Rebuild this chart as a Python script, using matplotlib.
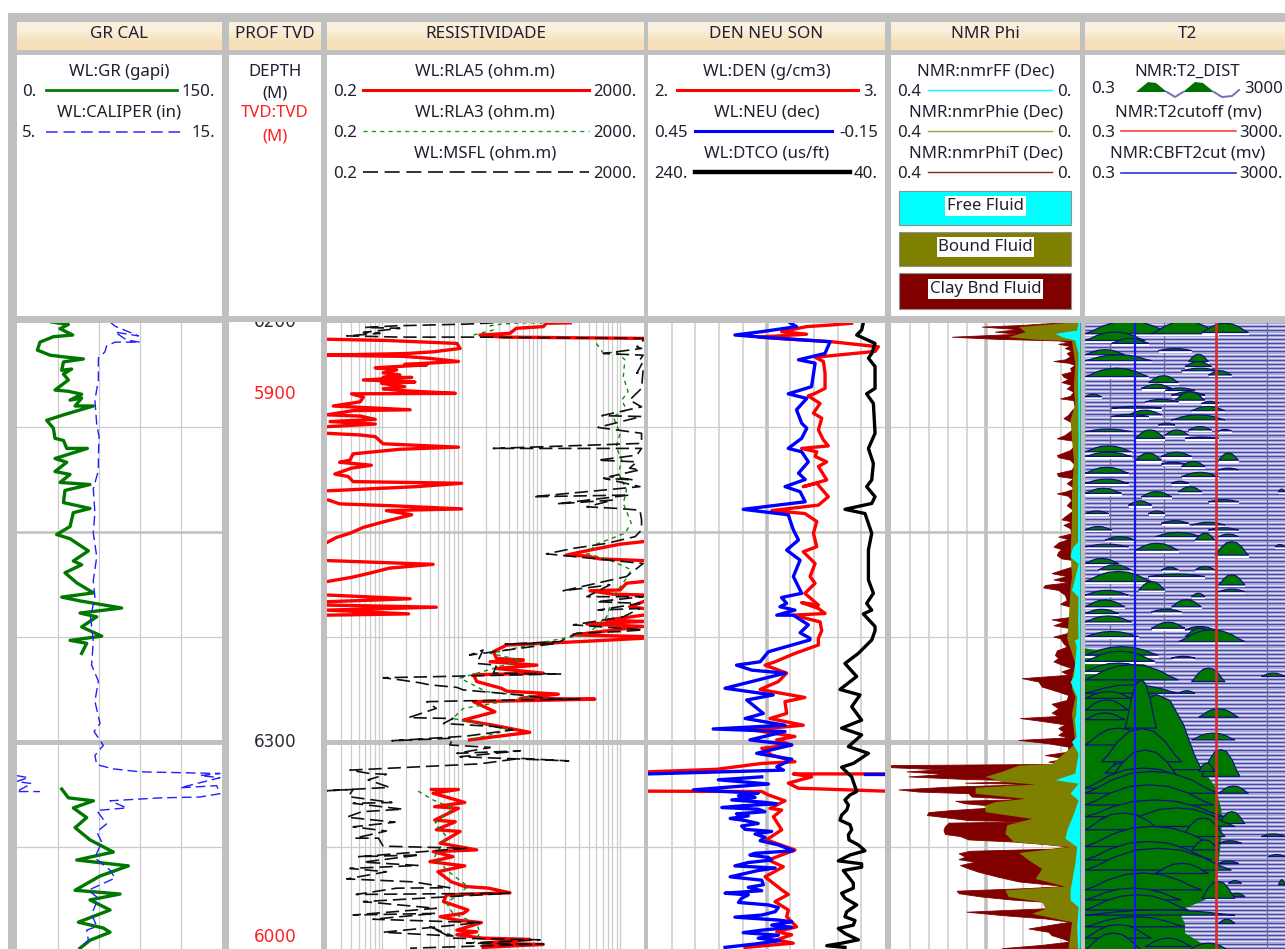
import matplotlib
matplotlib.use("Agg")
import matplotlib.pyplot as plt
from matplotlib.patches import Rectangle
import numpy as np

nan = np.nan
plt.rcParams['font.family'] = ['Noto Sans', 'DejaVu Sans']

# depth grid (m)
GRID_DEPTHS = [6225, 6250, 6275, 6300, 6325]
GRID_WIDTHS = [0.9, 1.8, 0.9, 3.6, 0.9]
MD_TICKS = [6200, 6300]
TVD_TICKS = [5900, 6000]
TVD_TICK_DEPTHS = [6217.1, 6346.4]

GR_DEPTH = [6200, 6200.6, 6201.6, 6203.1, 6203.5, 6204.8, 6206.7, 6207.9, 6208.3, 6208.8, 6209.5, 6211.5, 6211.2, 6212.4, 6213.8, 6216.2, 6216.5, 6217.2, 6218.6, 6218.1, 6220, 6220, 6222, 6223.4, 6225.3, 6227.7, 6228.2, 6230.1, 6230.1, 6232.5, 6233.4, 6235.6, 6236.3, 6238.2, 6238.7, 6240.1, 6243, 6244.4, 6245.4, 6248.7, 6250.6, 6251.6, 6254.5, 6256.9, 6257.8, 6259.7, 6262.1, 6264.5, 6265.5, 6266.4, 6268.1, 6269.3, 6270.2, 6272.6, 6274.8, 6275.8, 6276.5, 6278.9, 6290,
            6311.2, 6313.3, 6314, 6315.7, 6318, 6320.4, 6323.3, 6326.2, 6328.1, 6329.5, 6331.9, 6335.3, 6336.2, 6337.6, 6340, 6342.9, 6344.3, 6345.3, 6347.2, 6349.1]
GR_VALUE = [25.4, 37.6, 31.5, 40.8, 26.6, 16.8, 14.9, 24.2, 34, 48.6, 34, 32.7, 40, 34, 37.6, 27.8, 37.6, 47.3, 38.8, 47.3, 42.5, 55.9, 35.1, 21.7, 26.6, 27.8, 34, 36.4, 51.5, 27.8, 36.4, 27.8, 38.8, 31.5, 53.4, 35.1, 34, 53.4, 41.2, 38.8, 29, 38.8, 52.2, 41.2, 47.3, 35.1, 43.7, 55.9, 32.7, 46.1, 76.6, 46.1, 58.3, 47.3, 62, 38.8, 51, 47.3, nan,
            32.7, 37.6, 55.9, 41.2, 51, 42.5, 53.4, 70.5, 43.7, 81.5, 60.8, 42.5, 75.4, 53.4, 68.1, 44.9, 63.2, 68.1, 53.4, 46.1]

CAL_DEPTH = [6200, 6201, 6203.3, 6202.4, 6204.3, 6204.8, 6204.8, 6205.7, 6207.1, 6208.6, 6213.8, 6218.6, 6224.4, 6227.2, 6232, 6235.4, 6239.7, 6245.4, 6250.2, 6255.9, 6261.6, 6265.5, 6270.2, 6276, 6281.7, 6285.5, 6290.3, 6295.6, 6297.5, 6300.8, 6303.2, 6305.4, 6306.4, 6307.1, 6307.5, 6308, 6308.5, 6310.9, 6310.4, 6312.3, 6313.1, 6313.3, 6314, 6315.7, 6316.3, 6319.5, 6321.4, 6323.8, 6327.6, 6330.5, 6332.4, 6335.3, 6337.2, 6341, 6343.9, 6344.8, 6347.2, 6349.1]
CAL_VALUE = [9.54, 9.78, 10.92, 9.78, 10.35, 11, 9.78, 9.37, 9.29, 8.97, 8.97, 8.8, 8.89, 9.0, 8.97, 8.97, 8.72, 8.8, 8.72, 8.89, 8.72, 8.8, 8.59, 8.72, 8.64, 8.97, 8.8, 9.05, 8.76, 9.21, 8.8, 8.89, 9.7, 11, 14.9, 13.93, 14.9, 12.95, 14.74, 14.9, 13.93, 11.97, 9.54, 10.35, 8.89, 9.37, 8.89, 9.13, 8.8, 9.54, 9.78, 8.48, 8.97, 8.64, 8.89, 8.4, 8.48, 8.07]
CAL_WRAP_DEPTH = [6308, 6308.5, 6309.4, 6309.9, 6311.8, 6311.8]
CAL_WRAP_VALUE = [4.98, 5.55, 4.98, 5.71, 4.98, 6.12]

# resistivities kept as log10(ohm.m), the curve wraps round at the track edges
RLA5_DEPTH = [6200.2, 6200.3, 6201.1, 6201.5, 6202.7, 6203.1, 6203.6, 6203.9, 6203.9,
              6204.1, 6204.4, 6205.1, 6206.3, 6207.1, 6207.5, 6207.9, 6208.2, 6208.6, 6209.4, 6210.1, 6210.2, 6210.9, 6211.4, 6212.1, 6212.6, 6213.2, 6213.2, 6213.8, 6214.3, 6214.6, 6215.4, 6215.9, 6216.3, 6217, 6217.1, 6217.9, 6219, 6220, 6220.9, 6221.1, 6222.1, 6222.4, 6223.2, 6223.7, 6224.3, 6224.9, 6225,
              6226.5, 6226.9, 6227.3, 6229, 6229.8, 6230.3, 6231.4, 6232.9, 6233.4, 6234.1, 6234.8, 6236.2, 6236.8, 6238, 6238.4, 6239.2, 6240.2, 6240.3,
              6242.4, 6243.3, 6243.8, 6244.5, 6244.9, 6245.9, 6247.5, 6248.9, 6250.3, 6251.3, 6252.5, 6252.5,
              6252.3, 6252.9, 6254.3, 6255.5, 6255.7, 6256.4, 6256.8, 6256.8,
              6256.8, 6257.7, 6258.6, 6259.8, 6260.8, 6261.8, 6261.8,
              6261.8, 6262.2, 6263.8, 6264, 6264.8, 6265, 6265,
              6265, 6265.9, 6266.6, 6266.6,
              6266.6, 6267.8, 6268.2, 6268.2,
              6267.4, 6267.9, 6268.6, 6269.5, 6269.8, 6269.8,
              6269.8, 6271, 6271.3, 6271.9, 6272.5, 6274.5, 6274.9, 6275.3, 6276.1, 6276.9, 6278.5, 6280.1, 6280.5, 6280.9, 6281.7, 6282.5, 6283.6, 6284, 6285.6, 6287.2, 6287.9, 6288.6, 6289.6, 6289.8, 6290.4, 6292.8, 6294.8, 6296, 6297.7, 6299.5, 6299.6,
              6311.3, 6311.3, 6312.2, 6314.4, 6315.4, 6315.8, 6318.6, 6319, 6320.9, 6321.3, 6324.1, 6325.7, 6326.1, 6327.3, 6328.5, 6329.5, 6330.9, 6333.3, 6334.4, 6334.8, 6335.9, 6336.4, 6338, 6340, 6340.8, 6341.6, 6342.4, 6343, 6344.8, 6345.2, 6345.9, 6346.7, 6347, 6347.9, 6348.2, 6348.9]
RLA5_LOG = [2.37, 2.07, 2.03, 1.69, 1.61, 1.23, 1.52, 3.29, nan,
            -.7, .05, .94, .98, .64, .31, -.7, .28, .56, .96, .28, .56, -.09, .18, .01, .22, .01, .37, -.24, .41, -.01, .28, .01, .22, .92, -.39, -.24, -.28, -.62, .35, -.37, -.7, -.28, -.09, -.66, -.09, -.68, nan,
            -.7, -.28, -.09, .01, .96, .22, -.37, -.41, -.54, -.14, -.39, -.6, -.43, -.37, 1.0, .43, -.7, nan,
            -.68, -.54, .18, 1.0, .05, .37, .03, -.24, -.41, -.58, -.7, nan,
            3.29, 3.0, 2.62, 2.32, 2.58, 2.74, 3.29, nan,
            -.7, .64, .09, -.16, -.39, -.7, nan,
            3.29, 3.08, 3.0, 2.62, 2.91, 3.29, nan,
            -.7, .35, -.7, nan,
            3.29, 3.12, 3.29, nan,
            -.7, .68, -.7, .33, -.7, nan,
            3.29, 2.83, 3.29, 2.58, 3.29, 2.41, 3.29, 3.29, 2.49, 1.57, 1.4, 1.44, 1.78, 1.36, 1.95, 1.44, 2.03, 1.15, 1.19, 1.5, 1.57, 2.22, 1.74, 2.68, 1.15, 1.42, 1.02, 1.4, 1.86, 1.1, nan,
            .62, .96, .64, 1.04, .66, .96, .66, .92, .68, .98, .73, 1.19, .64, .89, .6, 1.04, .7, .87, 1.04, 1.34, 1.61, .81, .77, 1.08, 1.02, .73, .94, 1.25, .94, 1.19, .94, 1.27, 1.86, 1.27, 2.03, 1.27]

RLA3_DEPTH = [6203.1, 6201.9, 6200.9, 6200.5, 6200.2, 6200.2, 6200.3,
              6205.1, 6207.5, 6207.1, 6209, 6213, 6216.6, 6218.6, 6220.9, 6222.5, 6226.5, 6229.7, 6232.9, 6236, 6240, 6243.2, 6247.9, 6250.3, 6252.9, 6255.1, 6257, 6259, 6261, 6265.4, 6270.2, 6274.5, 6275.3, 6278.9, 6280.5, 6282.5, 6284.8, 6288, 6289.2, 6292, 6294.4, 6297.1, 6299.5, 6299.6,
              6311.7, 6313.8, 6315.8, 6319.4, 6322.5, 6327.3, 6330.5, 6334.4, 6338.4, 6340.8, 6343.2, 6345.5, 6347.9]
RLA3_LOG = [1.15, 1.4, 1.36, 1.5, 1.74, 2.03, nan,
            2.7, 2.79, 2.95, 3.06, 3.04, 3.1, 3.02, 3.08, 2.91, 3.0, 2.95, 3.02, 2.98, 3.08, 3.04, 3.14, 3.06, 2.7, 2.58, 2.91, 3.14, 3.08, 2.91, 2.83, 2.58, 2.28, 1.36, 1.74, 1.4, .98, 1.31, 1.9, 1.02, .89, 1.61, 1.1, nan,
            .45, .64, .89, .66, .81, .66, .81, 1.08, .81, .89, 1.19, 1.23, 1.15]

MSFL_DEPTH = [6200.2, 6200.5, 6200.9, 6201.3, 6201.5, 6202.5, 6202.7, 6203.3, 6203.6, 6203.6, 6203.9, 6204.4, 6205.9, 6206.3, 6207.5, 6207.9, 6209, 6209.4, 6212.2, 6211.4, 6215.8, 6218.6, 6220.2, 6222.3, 6222.5, 6225.1, 6226.5, 6228.9, 6230.1, 6230.1, 6231.7, 6232.9, 6233.3, 6234.8, 6235.2, 6236.8, 6237.6, 6237.2, 6239.2, 6241.6, 6241.2, 6243.3, 6242.4, 6244, 6244.4, 6244.8, 6247.1, 6249.5, 6251.1, 6252.7, 6253.9, 6255.2, 6256, 6257.5, 6260.6, 6264, 6262.6, 6265.4, 6265.4, 6266.6, 6267, 6268.6, 6268.2, 6270.2, 6272.1, 6273.3,
              6273.7, 6274.1, 6276.1, 6276.7, 6276.5, 6279.3, 6278.1, 6281.3, 6281.7, 6283.6, 6283.8, 6284.7, 6285.2, 6285.9, 6286.4, 6287, 6287.6, 6288.8, 6289.8, 6289.8, 6290.2, 6290.4, 6292, 6294.2, 6294.4, 6295.6, 6296.3, 6297.1, 6298.6, 6299.7, 6299.1, 6300.7, 6301.3, 6302.7, 6302.1, 6303.5, 6304.5, 6303.9, 6305.2, 6306.7, 6307.5, 6307.7, 6309, 6310.8, 6311.6, 6311.3, 6313, 6314.4, 6314.6, 6316, 6316.6, 6317.9, 6319.1, 6320.2, 6321.2, 6322.9, 6322.9, 6324.8, 6325.3, 6327.3, 6326.9, 6328.6, 6329.4, 6330.1, 6330.9, 6332.6, 6333.3, 6334.7, 6334.8, 6336.3, 6336, 6338, 6339.6, 6341.2, 6340.8, 6342.2, 6343, 6345.3, 6346.2, 6344, 6346.7, 6347.1, 6347.9, 6348.1, 6349.1]
MSFL_LOG = [1.4, 1.06, .18, -.22, .22, -.24, -.03, -.45, .22, 1.19, 3.29, 3.29, 3.21, 3.27, 2.79, 3.29, 3.25, 3.29, 3.21, 3.29, 3.27, 3.12, 3.27, 2.77, 3.27, 2.72, 3.27, 3.27, 1.4, 3.27, 3.21, 2.72, 3.21, 3.12, 3.25, 2.87, 3.17, 2.79, 3.25, 1.9, 3.12, 2.2, 2.91, 2.58, 2.98, 3.25, 3.27, 3.27, 3.19, 2.83, 2.41, 2.07, 2.49, 3.29, 3.08, 2.28, 2.87, 2.58, 3.29, 2.7, 3.25, 2.72, 3.25, 3.04, 2.41, 3.29,
            3.0, 2.45, 2.24, 1.55, 2.2, 1.1, 1.27, 1.19, 1.44, 1.4, 2.26, .01, .22, .47, .6, .94, 1.02, 1.74, 2.16, 2.49, 1.02, .56, .68, .33, .89, .77, 1.4, 1.65, 1.06, .12, .89, .85, 1.36, .94, 1.74, .98, 2.35, 1.74, 1.23, -.41, -.16, .05, -.18, .09, -.7, -.37, -.43, .12, -.37, .26, -.26, -.45, .16, -.37, .05, -.35, -.05, .01, 1.06, -.3, .47, -.24, .45, -.41, .05, -.45, .39, .85, .18, -.33, 1.61, -.24, .68, -.37, .68, -.12, 1.23, .01, .89, .6, .89, 1.99, 1.06, 2.03, .35]

DEN_DEPTH = [6200.3, 6200.7, 6201.1, 6202.3, 6202.9, 6203.6, 6204.7, 6205.9, 6207, 6208.4, 6209.4, 6212.2, 6215.8, 6217, 6217.6, 6219.4, 6221.7, 6222.9, 6225.7, 6228.1, 6229.5, 6230.1, 6230.9, 6232, 6233.3, 6234.4, 6237.6, 6239.2, 6238.4, 6241.6, 6243.6, 6244.9, 6245.6, 6247.5, 6250.3, 6253.5, 6254.7, 6257.5, 6260.6, 6262.2, 6264.6, 6267.4, 6266.8, 6268.2, 6269.4, 6269.8, 6271.4, 6273.5,
             6275.3, 6276.9, 6278.9, 6280.9, 6281.7, 6283.6, 6285.6, 6287.5, 6289.4, 6290.4, 6293.2, 6294.4, 6296, 6297.1, 6298.7, 6299.5, 6300.7, 6301.5, 6303.1, 6304.7, 6305.1, 6306.5, 6307.1, 6307.2,
             6307.6, 6307.6, 6308.3, 6309.8, 6311, 6311.7, 6311.8,
             6311.7, 6311.8, 6312.6, 6314, 6315.8, 6316.2, 6317.8, 6320.9, 6323.3, 6325.7, 6328.1, 6329.7, 6332.1, 6335.2, 6336.3, 6338, 6340, 6341.6, 6344, 6345.2, 6345.9, 6347.1, 6347.9, 6348.9]
DEN_VALUE = [2.859, 2.775, 2.669, 2.564, 2.669, 2.466, 2.775, 2.972, 2.958, 2.705, 2.74, 2.747, 2.747, 2.705, 2.676, 2.726, 2.698, 2.733, 2.719, 2.74, 2.761, 2.648, 2.712, 2.705, 2.754, 2.719, 2.754, 2.655, 2.712, 2.761, 2.719, 2.522, 2.662, 2.712, 2.698, 2.712, 2.655, 2.705, 2.684, 2.705, 2.662, 2.719, 2.648, 2.719, 2.747, 2.613, 2.726, 2.733,
             2.719, 2.719, 2.62, 2.536, 2.494, 2.585, 2.55, 2.473, 2.662, 2.578, 2.585, 2.515, 2.655, 2.437, 2.62, 2.543, 2.606, 2.48, 2.522, 2.62, 2.48, 2.29, 2.0, nan,
             3.0, 2.613, 2.69, 2.592, 2.634, 3.0, nan,
             2.0, 2.48, 2.508, 2.578, 2.515, 2.564, 2.529, 2.564, 2.5, 2.62, 2.508, 2.571, 2.494, 2.564, 2.592, 2.536, 2.592, 2.585, 2.627, 2.543, 2.606, 2.543, 2.613, 2.41]

NEU_DEPTH = [6200.2, 6201.1, 6202.3, 6203.1, 6203.9, 6204.7, 6207.5, 6209, 6209.8, 6215.4, 6217.1, 6218.2, 6220.9, 6224.1, 6225.3, 6227.7, 6230.1, 6230.9, 6233.3, 6236, 6237.5, 6239.2, 6240.4, 6242.8, 6244.6, 6245.9, 6249.5, 6251.9, 6254.3, 6256.7, 6260.6, 6264.6, 6265.6, 6267, 6267.8, 6268.6, 6269.8, 6269.8, 6272.1, 6274, 6275.3,
             6275.7, 6278.5, 6280.9, 6281.7, 6282.9, 6283.6, 6285.6, 6287.2, 6288.8, 6290, 6293.2, 6294.4, 6296, 6296.9, 6297.5, 6299.5, 6300.7, 6302.7, 6304.1, 6305.9, 6306.7, 6307.6, 6307.6,
             6308.3, 6309, 6310, 6311.4, 6312.2, 6312.8, 6313.2, 6313.8, 6314.3, 6314.7, 6315.2, 6315.6, 6316, 6316.6, 6317.1, 6317.6, 6318.2, 6318.7, 6319.4, 6320, 6320.8, 6321.3, 6321.9, 6322.7, 6323.5, 6324.5, 6325.9, 6326.5, 6326.9, 6327.5, 6328.1, 6328.7, 6329.5, 6330, 6330.6, 6331.3, 6332.1, 6332.9, 6334, 6334.6, 6335.4, 6336, 6336.4, 6337.2, 6338.2, 6338.8, 6339.4, 6340.4, 6341.2, 6341.7, 6342.4, 6342.8, 6343.6, 6344.1, 6344.8, 6345.4, 6346, 6346.7, 6347.3, 6348.1, 6348.9]
NEU_VALUE = [.09, .074, .162, .23, .12, -.011, .002, .069, .027, .036, .095, .048, .074, .061, .048, .061, .095, .061, .044, .069, .052, .103, .065, .052, .209, .095, .082, .069, .099, .065, .082, .061, .112, .099, .116, .078, .124, .082, .044, .065, .04,
             .04, .145, .166, .226, .187, .103, .187, .255, .133, .2, .158, .204, .103, .285, .103, .192, .086, .175, .086, .124, .107, .45, nan,
             .162, .272, .145, .335, .171, .221, .179, .238, .162, .124, .213, .263, .171, .154, .226, .196, .242, .204, .171, .213, .204, .137, .179, .154, .166, .12, .082, .179, .192, .145, .137, .196, .23, .128, .171, .204, .242, .162, .158, .196, .162, .255, .196, .213, .221, .145, .12, .128, .162, .23, .12, .086, .137, .086, .162, .209, .12, .171, .116, .179, .255]
NEU_WRAP_DEPTH = [6307.6, 6307.6]
NEU_WRAP_VALUE = [-.099, -.152]

DTCO_DEPTH = [6200.2, 6201.9, 6203.1, 6205.1, 6207.5, 6208.6, 6210.6, 6215.8, 6217.1, 6219.4, 6226.5, 6230.1, 6233.7, 6237.6, 6239.2, 6241.6, 6243.2, 6244.6, 6245.6, 6250.3, 6254.3, 6261.4, 6264.6, 6267, 6268.6, 6269.5, 6272.5, 6273.5,
              6275.7, 6278.9, 6281.3, 6284.4, 6287.5, 6288.8, 6291.6, 6294.8, 6296.7, 6298.3, 6301.1, 6302.7, 6305.1, 6306, 6308.3, 6311.8, 6312.6, 6313.8, 6315, 6316.2, 6317.4, 6318.6, 6319.7, 6320.9, 6322.1, 6323.3, 6324.5, 6325.9, 6326.9, 6328.3, 6329, 6329.8, 6330.6, 6332.1, 6333.6, 6334.8, 6336, 6337.2, 6338.8, 6340.4, 6341.6, 6342.5, 6343.6, 6344.4, 6345.6, 6347.1, 6347.9, 6348.5, 6348.9]
DTCO_VALUE = [58.3, 59.7, 63.9, 48.4, 51.2, 54, 48.4, 48.4, 55.5, 49.8, 48.4, 54, 49.8, 51.2, 55.5, 48.4, 51.2, 73.8, 56.9, 51.2, 54, 54, 49.8, 55.5, 51.2, 58.3, 48.4, 48.4,
              51.2, 62.5, 73.8, 63.9, 78, 61.1, 68.1, 59.7, 76.6, 59.7, 70.9, 54, 66.7, 76.6, 68.1, 63.9, 69.5, 73.8, 70.9, 72.3, 76.6, 78, 69.5, 68.1, 70.9, 70.4, 62.5, 56.9, 69.5, 79.4, 59.7, 59.7, 75.2, 70.9, 66.7, 66.7, 76.6, 73.8, 63.9, 72.3, 73.8, 65.3, 66.7, 79.4, 73.8, 62.5, 76.6, 89.2, 73.8]

PHIT_DEPTH = [6199.9, 6200.7, 6201.1, 6201.7, 6202.3, 6202.8, 6203.5, 6204, 6204.4, 6204.9, 6205.2, 6205.7, 6206.2, 6206.8, 6207.4, 6208.2, 6208.9, 6209.3, 6209.7, 6210.2, 6211, 6211.8, 6212.4, 6213, 6213.6, 6214.3, 6215, 6215.8, 6216.6, 6217.6, 6218.2, 6218.6, 6220.3, 6221.1, 6222.1, 6222.9, 6223.7, 6224.5, 6225.7, 6226.9, 6227.7, 6228.2, 6229.3, 6230.5, 6231.7, 6232.2, 6232.8, 6234, 6235.2, 6236, 6236.7, 6237.2, 6238.4, 6239.6, 6240.4, 6240.8, 6241.4, 6242.4, 6243.6, 6244.8, 6246.3, 6247, 6247.5, 6248.3, 6249.1, 6250.3, 6251.1, 6251.7, 6252.5, 6253.5, 6254.1, 6254.7, 6255.5, 6256.3, 6256.8, 6257.9, 6259, 6259.8, 6260.5, 6261.3, 6262, 6262.6, 6263.2, 6263.8, 6265, 6266.2, 6267.1, 6267.9, 6269.2, 6270.2, 6270.8, 6271.4, 6272.2, 6272.9, 6274.1, 6274.9,
              6275.3, 6276.5, 6277.3, 6278.2, 6279.3, 6280, 6280.8, 6281.6, 6282.4, 6283.2, 6284, 6284.8, 6285.6, 6286.8, 6288, 6288.8, 6290, 6290.9, 6292, 6293, 6293.8, 6294.3, 6295.1, 6295.8, 6296.7, 6297.5, 6298.3, 6298.9, 6299.5, 6300.3, 6301.1, 6302.3, 6303.1, 6303.9, 6304.7, 6305.2,
              6305.5, 6306, 6306.5, 6307, 6307.6, 6308.2, 6308.8, 6309.2, 6309.7, 6310, 6310.6, 6311.3, 6311.8, 6312.2, 6313, 6313.6, 6314, 6314.6, 6315.4, 6316.2, 6316.7, 6317.4, 6317.9, 6318.6, 6318.9, 6319.2, 6320.1, 6320.9, 6321.9, 6322.4, 6323.2, 6323.7, 6324.3, 6324.9, 6325.4, 6325.9, 6326.5, 6327.3, 6327.9, 6328.5, 6329.3, 6330.1, 6330.9, 6332.1, 6333.2, 6334.3, 6334.8, 6335.4, 6336, 6336.8, 6337.5, 6338, 6338.8, 6339.6, 6340.4, 6341.2, 6342, 6342.8, 6343.6, 6344.4, 6345.2, 6346, 6346.7, 6347.5, 6348.3, 6349.1]
PHIT_VALUE = [.011, .123, .208, .13, .18, .13, .271, .18, .042, .025, .046, .021, .032, .018, .028, .021, .032, .056, .025, .011, .021, .018, .039, .035, .025, .039, .018, .028, .014, .021, .042, .014, .011, .018, .025, .035, .021, .014, .018, .032, .049, .018, .011, .021, .049, .046, .021, .011, .018, .049, .046, .014, .028, .011, .032, .049, .025, .018, .028, .014, .032, .039, .018, .035, .021, .018, .046, .025, .046, .056, .039, .046, .049, .039, .007, .007, .039, .06, .028, .056, .025, .074, .078, .046, .032, .028, .042, .018, .011, .018, .06, .035, .056, .021, .028, .056,
              .042, .035, .028, .049, .053, .046, .056, .039, .018, .039, .025, .123, .088, .081, .046, .025, .028, .06, .046, .06, .046, .127, .074, .032, .046, .035, .046, .025, .13, .067, .025, .025, .074, .032, .067, .039,
              .4, .4, .293, .367, .286, .363, .243, .095, .243, .095, .271, .384, .342, .236, .229, .116, .264, .243, .159, .271, .321, .324, .286, .236, .102, .278, .286, .289, .286, .254, .236, .141, .074, .021, .06, .233, .257, .243, .257, .222, .254, .236, .215, .173, .13, .032, .116, .261, .257, .208, .145, .081, .025, .074, .24, .166, .074, .021, .067, .109, .067, .06, .039, .021, .081, .166]

PHIE_DEPTH = [6199.9, 6201.1, 6202.3, 6203.5, 6204.1, 6204.4, 6207.5, 6209.8, 6215.4, 6219.4, 6223.3, 6227.7, 6232.9, 6240.8, 6247.1, 6255.1, 6260.6, 6263, 6271, 6275.3,
              6281.2, 6284.8, 6287.2, 6289.2, 6293.2, 6297.1, 6300.3, 6305.1, 6305.5, 6307, 6308.2, 6309.4, 6310, 6310.8, 6312.2, 6313.4, 6314.2, 6315, 6316.6, 6318.2, 6319.7, 6321.7, 6323.7, 6324.9, 6326.3, 6328.1, 6330.1, 6332.5, 6334.3, 6335.2, 6336.8, 6338, 6339.6, 6340.8, 6342.8, 6349.1]
PHIE_VALUE = [.007, .13, .116, .152, .095, .018, .014, .011, .014, .011, .021, .018, .014, .018, .018, .021, .018, .021, .025, .028,
              .011, .018, .018, .011, .018, .014, .011, .06, .13, .166, .201, .166, .095, .222, .222, .116, .179, .201, .201, .102, .155, .159, .141, .021, .13, .109, .081, .095, .032, .159, .152, .081, .074, .102, .018, .025]

FF_DEPTH = [6199.9, 6201.9, 6202.7, 6203.5, 6204.3, 6207.5, 6213.8, 6227.3, 6241.6, 6252.3, 6253.5, 6254.3, 6255.9, 6257.5, 6262.2, 6263.8, 6265.4, 6271, 6275.3,
            6275.7, 6277.3, 6284.4, 6285.6, 6289.2, 6293.2, 6294.7, 6298.7, 6299.9, 6302.7, 6307.4, 6309, 6309.8, 6312.2, 6313.8, 6317, 6321, 6322.9, 6324.9, 6328.9, 6335.2, 6337.6, 6339.2, 6344, 6349.1]
FF_VALUE = [.004, .007, .053, .039, .011, .004, .005, .004, .005, .005, .015, .018, .021, .004, .014, .018, .004, .005, .004,
            .012, .008, .014, .021, .007, .009, .012, .008, .018, .004, .011, .053, .004, .021, .004, .014, .028, .032, .007, .011, .021, .021, .004, .007, .005]

# T2 distribution, one hump per row: base depth, left/right bin, amplitude in depth units
T2_BASE = [6202.8, 6202.8, 6202.5, 6204.4, 6205.1, 6206.8, 6207.8, 6209.2, 6209.4, 6210.6, 6211.6, 6212.6, 6213, 6214.4, 6215.8, 6216.3, 6217.4, 6217.8, 6218.6, 6219, 6219.4, 6220.5, 6221.1, 6222.1, 6222.5, 6223.3, 6224.5, 6225.7, 6225.9, 6226.1, 6226.9, 6227.7, 6227.7, 6230.9, 6232, 6232, 6232.9, 6232.9, 6233.8, 6234.4, 6235.2, 6236, 6236.8, 6238.4, 6238.4, 6240.4, 6240.4, 6240.8, 6241.6, 6242.8, 6243.6, 6245.6, 6245.6, 6247.9, 6248.3, 6249.5, 6249.5, 6251.1, 6251.1, 6251.9, 6251.9, 6253.5, 6253.5, 6254.3, 6255.1, 6255.5, 6257.5, 6259, 6259, 6259, 6260.6, 6261.8, 6262.6, 6263.8, 6264.2, 6265, 6265.4, 6267.8, 6267.8, 6269, 6269.4, 6271.4, 6272.9, 6273.3, 6274.9, 6274.9, 6275.3,
           6276.1, 6279.3, 6280, 6280.8, 6283.2, 6284.4, 6285.2, 6285.6, 6288.4, 6288.4, 6289.6, 6292.4, 6294.1, 6294.7, 6306.6, 6296.7, 6299.5, 6300.7, 6304.7, 6307.4, 6309, 6308.2, 6307, 6311, 6312.2, 6312.2, 6315, 6317.8, 6319.4, 6320.1, 6320.9, 6322.5, 6322.5, 6324.1, 6324.9, 6325.7, 6327.3, 6328.1, 6328.9, 6330.5, 6331.3, 6333.6, 6334, 6335.2, 6336.8, 6337.2, 6337.6, 6340, 6341.2, 6343.2, 6344, 6346.7, 6348.7, 6349.5, 6349.5]
T2_LEFT = [0, 13.3, 23.3, 0, 5.3, 14.7, 0, 0, 20.7, 20, 19.3, 24.7, 0, 12.7, 11.3, 16, 17.3, 0, 18, 12, 23.3, 5.3, 21.3, 8.7, 5.3, 17.3, 14.7, 20.7, 26.7, 0, 16, 10, 20, 0, 0, 15.3, 10, 26.7, 15.3, 19.3, 26.7, 0, 19.3, 0, 17.3, 18.7, 38.7, 0, 11.3, 24.7, 8.7, 0, 12.7, 15.3, 21.3, 0, 24.7, 14, 26.7, 22, 4, 0, 38, 10, 26.7, 26, 0, 2.7, 15.3, 22, 12.7, 0, 26.7, 10.7, 26.7, 0, 21.3, 0, 17.3, 13.3, 0, 0, 13.3, 20, 20, 0, 26.7,
           18.7, 0, 17.3, 0, 0, 35.3, 0, 21.3, 0, 18.7, 0, 0, 22.7, 0, 5.3, 8, 21.3, 0, 3.3, 4, 4.7, 23.3, 22.7, 0, 0, 26.7, 0, 0, 26.7, 6.7, 0, 19.3, 35.3, 26.7, 0, 21.3, 36.7, 0, 26.7, 0, 14, 28.7, 38.7, 0, 28.7, 23.3, 0, 0, 0, 26.7, 0, 0, 12, 0, 20.7]
T2_RIGHT = [17.3, 26.7, 32.7, 12, 12.7, 21.3, 8, 13.3, 24.7, 25.3, 26.7, 29.3, 12.7, 18.7, 17.3, 22, 24, 3.3, 24, 18.7, 26.7, 15.3, 28, 15.3, 12.7, 28, 18, 25.3, 29.3, 9.3, 20.7, 16, 26.7, 9.3, 9.3, 21.3, 15.3, 30.7, 20, 24, 30.7, 8.7, 26.7, 8.7, 20.7, 23.3, 40, 7.3, 17.3, 30.7, 13.3, 4.7, 16, 20.7, 28, 5.3, 30.7, 23.3, 30.7, 26, 10, 8.7, 40, 18.7, 30.7, 32.7, 6.7, 9.3, 18.7, 26, 24, 13.3, 32, 16, 32, 8.7, 24, 8, 23.3, 19.3, 6.7, 9.3, 20, 26, 26, 10.7, 30,
            32, 14.7, 22, 14, 13.3, 40, 18.7, 28, 18.7, 22, 9.3, 8.7, 30.7, 8, 23.3, 14.3, 30, 13.3, 19.3, 10.7, 19.3, 31, 26, 23.3, 26.7, 32.7, 25.7, 28, 32, 30, 15.3, 28, 40, 31.3, 26.7, 26.7, 40, 25.3, 30.7, 29.3, 24.7, 31.3, 40, 23.3, 32, 30, 19.3, 20.7, 30, 30, 20, 13.3, 21.3, 11.3, 28.7]
T2_AMP = [3, 3, 2.2, 2, 1.2, .5, 1.2, 1.4, 1.7, 1.2, .6, 1, 2, 1.6, 1, .6, .8, .6, 2, .6, .5, .4, 1, 1.1, .5, 1.2, .4, .8, .3, .6, 1.2, 2, .3, 1.4, 1, 1, 1.7, 1.7, .4, 1.2, .4, 1.4, 1, 1, .5, 1.2, .6, 1.2, 1.2, .5, 1, .6, .6, .6, .6, .8, .5, 1, .6, 1.6, .8, .6, .5, 1.6, 2, 3.2, 1.2, 1.2, .6, .8, .6, 2.4, 2.4, 2, .6, 1.1, .8, 1.6, 1.7, .6, 1, 1.4, 1.4, .8, 2, 1.2, .6,
          2.8, 2, .4, 2.4, 2, .8, 3.6, 3.2, 2, .6, 1.6, 2.4, 2, 1.6, 17.9, 11.5, 1.6, 4, 7.9, 2.4, 7.1, 6.4, 2, 4.8, 5.2, 1.7, 4.8, 4, 2.8, 4.4, 4, 4.4, .6, .6, 4.8, 2.4, .5, 4.4, .6, 5.2, 2.4, .6, 1.2, 4, .8, 4, 2.8, 3.6, 1.2, 1, 2.4, 3.2, 2, 4, 1.6]
T2_SHAPE_X = [0, .08, .2, .35, .5, .65, .8, .92, 1]
T2_SHAPE_Y = [0, .2, .6, .92, 1, .92, .6, .2, 0]
# solid green mass in the lower part of the track
T2_MASS_BIN = [0, 8, 12.7, 13.3, 10.7, 11.7, 13.3, 14.3, 16.7, 19.3, 22.7, 26, 27.3, 27.3, 26.7, 25.7, 24, 20, 19.3, 20, 20, 23.3, 26.7, 0]
T2_MASS_DEPTH = [6277.7, 6279.3, 6282, 6284.4, 6285.2, 6285.2, 6288.4, 6288.8, 6292.4, 6297.9, 6305.1, 6310.6, 6316.2, 6322.5, 6328.9, 6335.2, 6337.6, 6339.6, 6341.6, 6343.2, 6345.5, 6347.9, 6349.3, 6349.3]
T2_ROWS = np.arange(6200, 6350, 1.0)
T2_GRID_BINS = [5, 15.7, 36.3]
T2_CBF_BIN = 10
T2_CUTOFF_BIN = 26.1

GR_GRID = [30, 60, 90, 120]
RES_GRID = [.3, .4, .5, .6, .7, .8, .9, 1, 2, 3, 4, 5, 6, 7, 8, 9, 10, 20, 30, 40, 50, 60, 70, 80, 90, 100, 200, 300, 400, 500, 600, 700, 800, 900, 1000]
DEN_GRID = [2.1, 2.2, 2.3, 2.4, 2.6, 2.7, 2.8, 2.9]
NMR_GRID = [.36, .32, .28, .24, .16, .12, .08, .04]

W, H = 1285, 949
GREY = '#c0c0c0'
GRIDC = '#cbcbcb'
TXT = '#202030'
FS = 12.1


def track(x0, x1, y0=323, y1=949):
    ax = fig.add_axes([x0 / W, 1 - y1 / H, (x1 - x0) / W, (y1 - y0) / H])
    ax.set_ylim(6200 + (y1 - 322) / 4.2, 6200 + (y0 - 322) / 4.2)
    ax.set_xticks([])
    ax.set_yticks([])
    for s in ax.spines.values():
        s.set_visible(False)
    return ax


def second_scale(ax, lo, hi):
    a2 = ax.twiny()
    a2.set_xlim(lo, hi)
    a2.set_xticks([])
    a2.set_ylim(ax.get_ylim())
    a2.patch.set_visible(False)
    for s in a2.spines.values():
        s.set_visible(False)
    return a2


def depth_grid(ax):
    for d, w in zip(GRID_DEPTHS, GRID_WIDTHS):
        ax.axhline(d, color=GREY if w > 1 else GRIDC, lw=w, zorder=1)


fig = plt.figure(figsize=(W / 100, H / 100), dpi=100, facecolor='white')
bg = fig.add_axes([0, 0, 1, 1])
bg.set_xlim(0, W)
bg.set_ylim(H, 0)
bg.axis('off')
bg.add_patch(Rectangle((8, 13), W - 8, H - 13, fc=GREY, ec='none'))

header_grad = np.array([[[.985, .945, .87]], [[.96, .875, .725]]])
tracks = [(17, 222, 'GR CAL'), (229, 321, 'PROF TVD'), (327, 644, 'RESISTIVIDADE'),
          (648, 885, 'DEN NEU SON'), (891, 1080, 'NMR Phi'), (1085, 1290, 'T2')]
for x0, x1, name in tracks:
    bg.imshow(header_grad, extent=(x0, x1, 50, 22), aspect='auto', interpolation='bilinear', zorder=1)
    bg.add_patch(Rectangle((x0, 55), x1 - x0, 261, fc='white', ec='none', zorder=1))
    bg.text((x0 + min(x1, 1289)) / 2, 34, name, ha='center', va='center', fontsize=12.3, color=TXT, zorder=3)
bg.set_xlim(0, W)
bg.set_ylim(H, 0)


def leg(x, y, s, ha='center', color=TXT):
    bg.text(x, y + .5, s, ha=ha, va='center', fontsize=FS, color=color, zorder=3)


def legline(x0, x1, y, color, lw, ls='-'):
    bg.plot([x0, x1], [y, y], color=color, lw=lw, ls=ls, zorder=3)


# GR CAL legend
leg(119, 71, 'WL:GR (gapi)')
leg(22, 91, '0.', 'left')
leg(215, 91, '150.', 'right')
legline(46, 177, 89.5, '#008000', 2)
leg(119, 112, 'WL:CALIPER (in)')
leg(22, 132, '5.', 'left')
leg(215, 132, '15.', 'right')
legline(46, 186, 131.5, '#3c3cff', 1.2, (0, (7, 3.5)))
# depth legend
leg(275, 71, 'DEPTH')
leg(275, 93, '(M)')
leg(275, 112, 'TVD:TVD', color='#ff2020')
leg(275, 136, '(M)', color='#ff2020')
# resistivity legend
for yy, nm, col, lw, ls in [(71, 'WL:RLA5 (ohm.m)', '#ff0000', 2.2, '-'), (112, 'WL:RLA3 (ohm.m)', '#2a9a2a', 1, (0, (3, 3))),
                            (153, 'WL:MSFL (ohm.m)', '#101010', 1.2, (0, (9, 4)))]:
    leg(485, yy, nm)
    leg(333, yy + 20, '0.2', 'left')
    leg(637, yy + 20, '2000.', 'right')
    legline(363, 589, yy + 18.5, col, lw, ls)
# den neu son legend
for yy, nm, l, r, col, lw, a, b in [(71, 'WL:DEN (g/cm3)', '2.', '3.', '#ff0000', 2.2, 677, 858),
                                    (112, 'WL:NEU (dec)', '0.45', '-0.15', '#0000ff', 2.2, 695, 832),
                                    (153, 'WL:DTCO (us/ft)', '240.', '40.', '#000000', 3.2, 695, 850)]:
    leg(767, yy, nm)
    leg(654, yy + 20, l, 'left')
    leg(878, yy + 20, r, 'right')
    legline(a, b, yy + 18.5, col, lw)
# NMR legend
for yy, nm, col in [(71, 'NMR:nmrFF (Dec)', '#00ffff'), (112, 'NMR:nmrPhie (Dec)', '#a0a040'), (153, 'NMR:nmrPhiT (Dec)', '#902020')]:
    leg(986, yy, nm)
    leg(897, yy + 20, '0.4', 'left')
    leg(1071, yy + 20, '0.', 'right')
    legline(928, 1052, yy + 18.5, col, 1)
for y0, y1, col, nm in [(191, 225, '#00ffff', 'Free Fluid'), (232, 266, '#808000', 'Bound Fluid'), (273, 309, '#800000', 'Clay Bnd Fluid')]:
    bg.add_patch(Rectangle((899, y0), 172, y1 - y0, fc=col, ec='#909090', lw=0.8, zorder=2))
    bg.text(985.5, (y0 + y1) / 2 - 2, nm, ha='center', va='center', fontsize=FS, color=TXT, zorder=3,
            bbox=dict(fc='white', ec='none', pad=1.2))
# T2 legend
leg(1187, 71, 'NMR:T2_DIST')
leg(1091, 88, '0.3', 'left')
leg(1283, 88, '3000', 'right')
leg(1188, 112, 'NMR:T2cutoff (mv)')
leg(1091, 132, '0.3', 'left')
leg(1283, 132, '3000.', 'right')
legline(1121, 1236, 131, '#ff4040', 1.2)
leg(1188, 153, 'NMR:CBFT2cut (mv)')
leg(1091, 173, '0.3', 'left')
leg(1283, 173, '3000.', 'right')
legline(1121, 1236, 172.5, '#3030d0', 1.2)
bg.fill([1136, 1142, 1148, 1156, 1167], [92, 87, 82, 83, 92], fc='#007000', ec='none', zorder=2)
bg.fill([1183, 1189, 1195, 1203, 1214], [92, 87, 82, 83, 92], fc='#007000', ec='none', zorder=2)
bg.plot([1167, 1175, 1183], [92, 97, 92], color='#7070b8', lw=1.4, zorder=3)
bg.plot([1214, 1222, 1232, 1239], [92, 97, 96, 90], color='#7070b8', lw=1.4, zorder=3)

# GR CAL
ax = track(17, 222)
ax.set_xlim(0, 150)
for v in GR_GRID:
    ax.axvline(v, color=GRIDC, lw=0.9, zorder=1)
depth_grid(ax)
ax.plot(GR_VALUE, GR_DEPTH, color='#007800', lw=2.4, zorder=3)
a2 = second_scale(ax, 5, 15)
a2.plot(CAL_VALUE, CAL_DEPTH, color='#2020ff', lw=1.0, dashes=(7, 3.5))
a2.plot(CAL_WRAP_VALUE, CAL_WRAP_DEPTH, color='#2020ff', lw=1.0, dashes=(7, 3.5))

# depth labels
ax = track(229, 321, 322, 949)
ax.set_xlim(0, 1)
for d in MD_TICKS:
    ax.text(.5, d, str(d), ha='center', va='center', fontsize=12.2, color='#2a2a35', family='DejaVu Sans', clip_on=True)
for d, t in zip(TVD_TICK_DEPTHS, TVD_TICKS):
    ax.text(.5, d, str(t), ha='center', va='center', fontsize=12.2, color='#ff2020', family='DejaVu Sans', clip_on=True)

# resistivity
ax = track(327, 644)
ax.set_xscale('log')
ax.set_xlim(.2, 2000)
ax.set_xticks([])
ax.minorticks_off()
for v in RES_GRID:
    ax.axvline(v, color=GRIDC, lw=0.9, zorder=1)
depth_grid(ax)
ax.plot(10 ** np.array(RLA5_LOG), RLA5_DEPTH, color='#ff0000', lw=2.4, zorder=3)
ax.plot(10 ** np.array(RLA3_LOG), RLA3_DEPTH, color='#108a10', lw=1.0, dashes=(3, 3), zorder=4)
ax.plot(10 ** np.array(MSFL_LOG), MSFL_DEPTH, color='#101010', lw=1.2, dashes=(8, 3.5), zorder=5)

# density neutron sonic
ax = track(648, 885)
ax.set_xlim(2, 3)
for v in DEN_GRID:
    ax.axvline(v, color=GRIDC, lw=1.1, zorder=1)
ax.axvline(2.5, color=GREY, lw=2.6, zorder=1)
depth_grid(ax)
ax.plot(DEN_VALUE, DEN_DEPTH, color='#ff0000', lw=2.4, zorder=3)
a2 = second_scale(ax, .45, -.15)
a2.plot(NEU_VALUE, NEU_DEPTH, color='#0000ff', lw=2.4)
a2.plot(NEU_WRAP_VALUE, NEU_WRAP_DEPTH, color='#0000ff', lw=2.4)
a3 = second_scale(ax, 240, 40)
a3.plot(DTCO_VALUE, DTCO_DEPTH, color='#000000', lw=2.4)

# NMR porosity
ax = track(891, 1080)
ax.set_xlim(.4, 0)
for v in NMR_GRID:
    ax.axvline(v, color=GRIDC, lw=1.1, zorder=1)
ax.axvline(.2, color=GREY, lw=2.6, zorder=1)
depth_grid(ax)
ax.fill_betweenx(PHIT_DEPTH, PHIT_VALUE, 0, color='#800000', lw=0.6, zorder=3)
ax.fill_betweenx(PHIE_DEPTH, PHIE_VALUE, 0, color='#808000', lw=0, zorder=4)
ax.fill_betweenx(FF_DEPTH, FF_VALUE, 0, color='#00ffff', lw=0, zorder=5)

# T2 distribution
ax = track(1085, 1285)
ax.set_xlim(0, 40)
ax.set_facecolor('#a8a8da')
ax.hlines(T2_ROWS + .5, 0, 40, color='#dcdcf4', lw=0.8, zorder=1)
ax.hlines(T2_ROWS, 0, 40, color='#4a4aa4', lw=0.8, zorder=1)
for v in T2_GRID_BINS:
    ax.axvline(v, color='#6a6a9a', lw=0.9, zorder=2)
ax.fill(T2_MASS_BIN, T2_MASS_DEPTH, fc='#007800', ec='none', zorder=2.5)
for i in range(len(T2_BASE)):
    xs = [T2_LEFT[i] + f * (T2_RIGHT[i] - T2_LEFT[i]) for f in T2_SHAPE_X]
    ys = [T2_BASE[i] - f * T2_AMP[i] for f in T2_SHAPE_Y]
    if T2_BASE[i] < 6284:
        ax.hlines(T2_BASE[i] + .35, T2_LEFT[i], T2_RIGHT[i], color='white', lw=1.6, zorder=3 + i * .01)
    ax.fill(xs, ys, fc='#007800', ec='#10107a', lw=0.9, zorder=3 + i * .01)
ax.axvline(T2_CBF_BIN, color='#1414f0', lw=1.6, zorder=10)
ax.axvline(T2_CUTOFF_BIN, color='#e02828', lw=1.9, zorder=10)

fig.savefig('out.png', dpi=100, facecolor='white')
